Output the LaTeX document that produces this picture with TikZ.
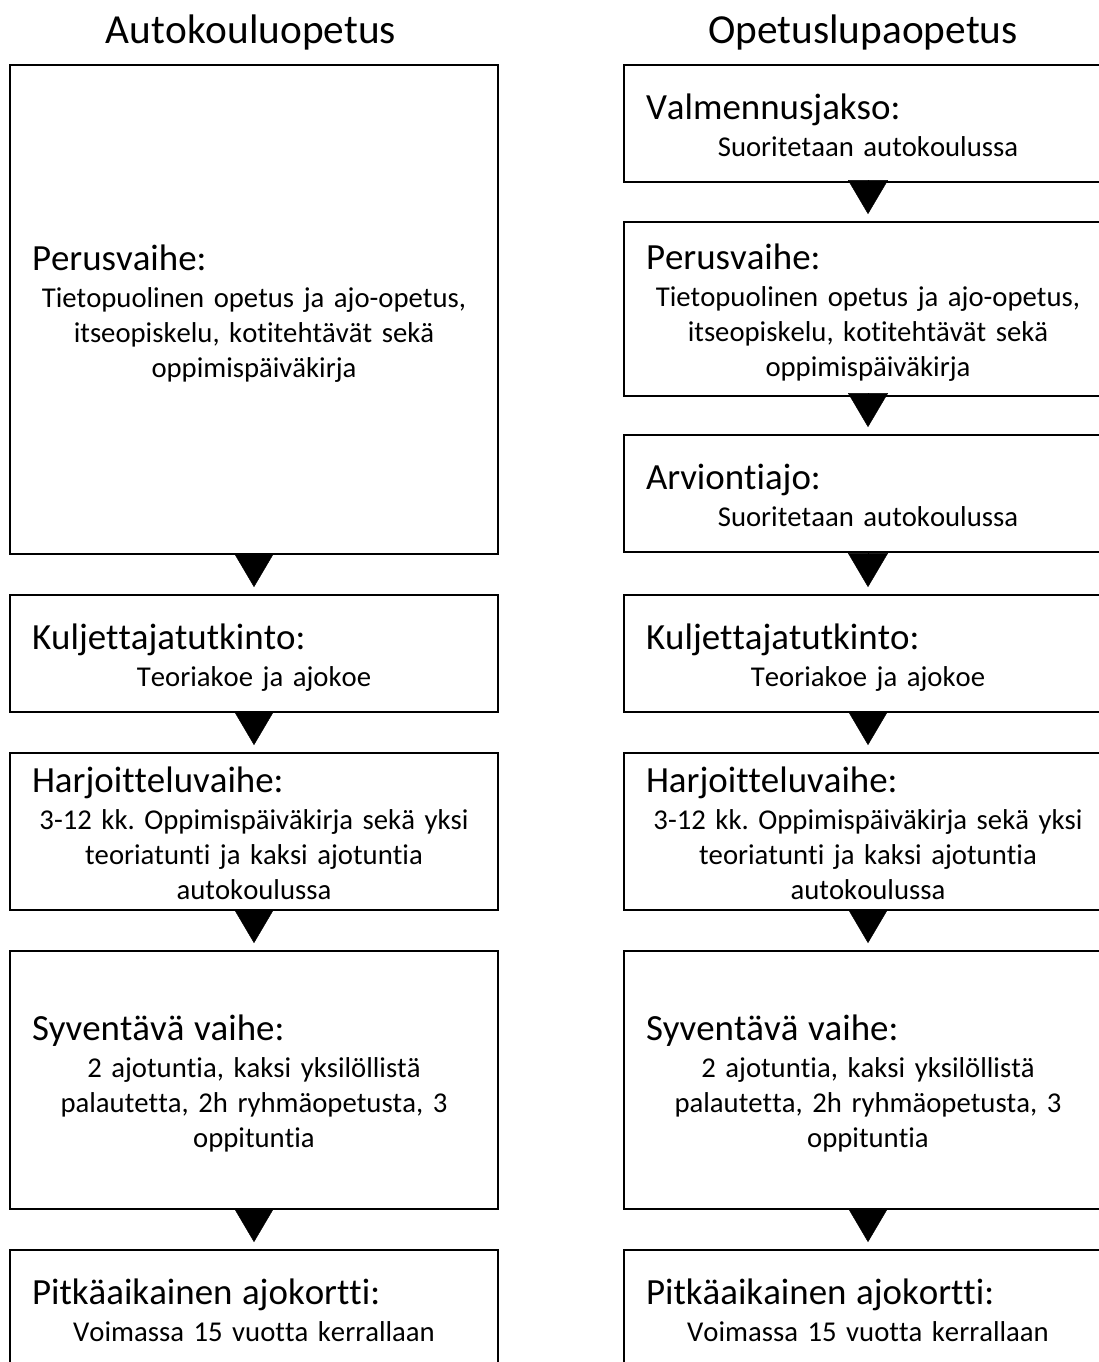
\documentclass[tikz,border=0pt]{standalone}
\usepackage{fontspec}
\setmainfont{Carlito}[Ligatures=NoCommon, Kerning=Off]
\usetikzlibrary{arrows.meta, positioning}
\frenchspacing

% Font sizes and line helpers (Word-like line boxes)
\newcommand\bodysize{\fontsize{28.7pt}{0pt}\selectfont}
\newcommand\headsize{\fontsize{36.9pt}{0pt}\selectfont}
\newcommand\linestrut{\rule[-0.25em]{0pt}{1.22em}}
\newcommand\stagehead[1]{\parindent=0pt\lineskip=0pt\lineskiplimit=0pt
    \noindent\makebox[\hsize][l]{\headsize\linestrut#1}\par}
\newcommand\stageline[1]{{\centering\bodysize\linestrut#1\par}}

\tikzset{
    stagebox/.style={draw, line width=1.8pt, minimum width=488pt, text width=444pt,
        inner xsep=22pt, inner ysep=0pt, font=\bodysize},
    flowarrow/.style={-{Triangle[width=40pt,length=34pt]}, line width=0.4pt, shorten >=7pt},
    coltitle/.style={font=\fontsize{41.3pt}{0pt}\selectfont, anchor=base, inner sep=0pt}
}

\begin{document}
\begin{tikzpicture}[x=1pt, y=-1pt]
    \useasboundingbox (0,0) rectangle (1099,1362);

    % Titles
    \node[coltitle] (tleft) at (251,44) {Autokouluopetus};
    \node[coltitle] (tright) at (863,44) {Opetuslupaopetus};

    % Left column
    \node[stagebox, minimum height=489pt] (L1) at (254,309.5) {\stagehead{Perusvaihe:}\stageline{Tietopuolinen opetus ja ajo-opetus,}\stageline{itseopiskelu, kotitehtävät sekä}\stageline{oppimispäiväkirja}};
    \node[stagebox, minimum height=117pt] (L2) at (254,653.5) {\stagehead{Kuljettajatutkinto:}\stageline{Teoriakoe ja ajokoe}};
    \node[stagebox, minimum height=157pt] (L3) at (254,831.5) {\stagehead{Harjoitteluvaihe:}\stageline{3-12 kk. Oppimispäiväkirja sekä yksi}\stageline{teoriatunti ja kaksi ajotuntia}\stageline{autokoulussa}};
    \node[stagebox, minimum height=258pt] (L4) at (254,1080) {\stagehead{Syventävä vaihe:}\stageline{2 ajotuntia, kaksi yksilöllistä}\stageline{palautetta, 2h ryhmäopetusta, 3}\stageline{oppituntia}};
    \node[stagebox, minimum height=117pt] (L5) at (254,1308.5) {\stagehead{Pitkäaikainen ajokortti:}\stageline{Voimassa 15 vuotta kerrallaan}};

    % Right column
    \node[stagebox, minimum height=117pt] (R1) at (868,123.5) {\stagehead{Valmennusjakso:}\stageline{Suoritetaan autokoulussa}};
    \node[stagebox, minimum height=174pt] (R2) at (868,309) {\stagehead{Perusvaihe:}\stageline{Tietopuolinen opetus ja ajo-opetus,}\stageline{itseopiskelu, kotitehtävät sekä}\stageline{oppimispäiväkirja}};
    \node[stagebox, minimum height=117pt] (R3) at (868,493.5) {\stagehead{Arviontiajo:}\stageline{Suoritetaan autokoulussa}};
    \node[stagebox, minimum height=117pt] (R4) at (868,653.5) {\stagehead{Kuljettajatutkinto:}\stageline{Teoriakoe ja ajokoe}};
    \node[stagebox, minimum height=157pt] (R5) at (868,831.5) {\stagehead{Harjoitteluvaihe:}\stageline{3-12 kk. Oppimispäiväkirja sekä yksi}\stageline{teoriatunti ja kaksi ajotuntia}\stageline{autokoulussa}};
    \node[stagebox, minimum height=258pt] (R6) at (868,1080) {\stagehead{Syventävä vaihe:}\stageline{2 ajotuntia, kaksi yksilöllistä}\stageline{palautetta, 2h ryhmäopetusta, 3}\stageline{oppituntia}};
    \node[stagebox, minimum height=117pt] (R7) at (868,1308.5) {\stagehead{Pitkäaikainen ajokortti:}\stageline{Voimassa 15 vuotta kerrallaan}};

    % Arrows
    \foreach \a/\b in {L1/L2, L2/L3, L3/L4, L4/L5, R1/R2, R2/R3, R3/R4, R4/R5, R5/R6, R6/R7}
        \draw[flowarrow] (\a.south) -- (\b.north);

\end{tikzpicture}
\end{document}
